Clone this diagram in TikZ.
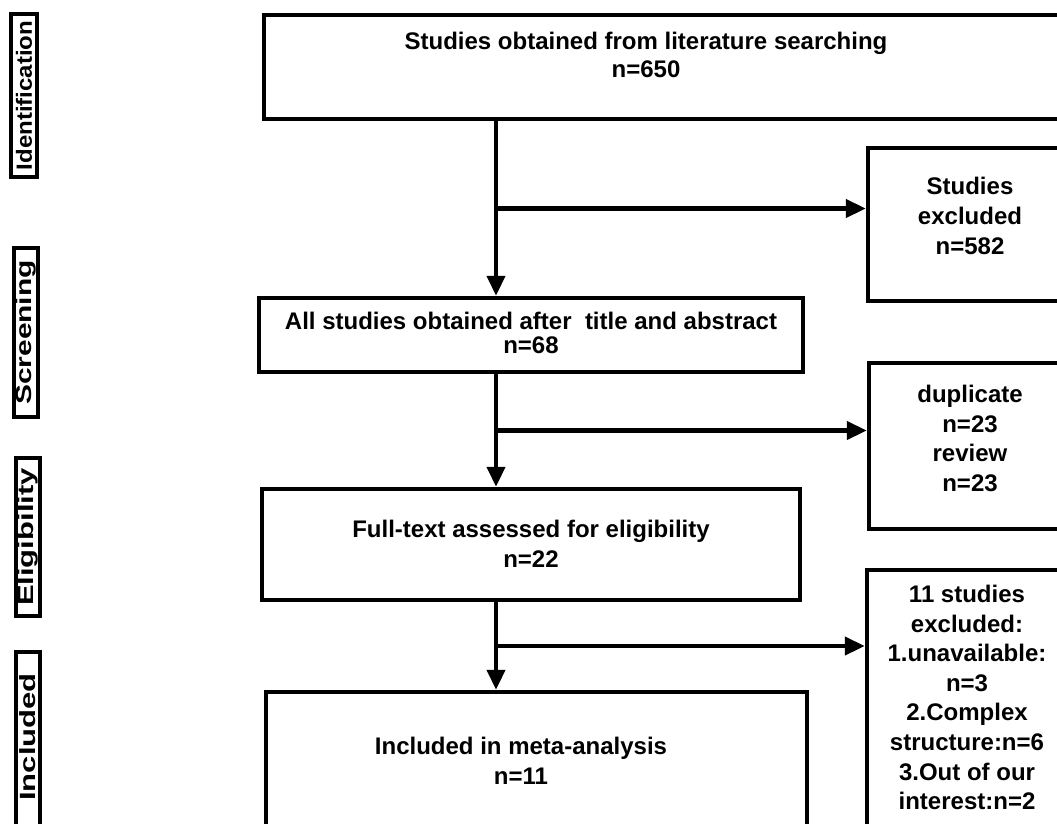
\documentclass[tikz,border=0pt]{standalone}
\usepackage{fontspec}
\setmainfont{Liberation Sans}
\usetikzlibrary{arrows.meta,calc}
\begin{document}
\begin{tikzpicture}[x=1pt,y=-1pt,
  box/.style={draw, line width=4.5pt, inner sep=0pt},
  lbox/.style={draw, line width=3.5pt, inner sep=0pt},
  txt/.style={font=\fontsize{24}{29.6}\selectfont\bfseries, align=center, inner sep=0pt},
  ltxt/.style={font=\fontsize{22}{24}\selectfont\bfseries, rotate=90, inner sep=0pt},
  conn/.style={line width=4.5pt, -{Triangle[length=20pt,width=18pt]}}]
\useasboundingbox (0,0) rectangle (1057,824);
\clip (0,0) rectangle (1057,824);
\fill[white] (0,0) rectangle (1057,824);
% stage labels
\node[lbox, minimum width=26pt, minimum height=163pt] (L1) at (24,95.5) {};
\node[lbox, minimum width=24pt, minimum height=169pt] (L2) at (26,332.5) {};
\node[lbox, minimum width=24pt, minimum height=158pt] (L3) at (28,537) {};
\node[lbox, minimum width=24pt, minimum height=188pt] (L4) at (28,746) {};
\node[ltxt] (l1) at (L1.center) {\scalebox{1.09}[1]{Identification}};
\node[ltxt] (l2) at (L2.center) {\scalebox{1.36}[1]{Screening}};
\node[ltxt] (l3) at (L3.center) {\scalebox{1.41}[1]{Eligibility}};
\node[ltxt] (l4) at (28,737) {\scalebox{1.41}[1]{Included}};
% main boxes
\node[box, minimum width=806pt, minimum height=104pt] (top) at (667,67) {};
\node[box, minimum width=544pt, minimum height=74pt] (s2) at (531,335) {};
\node[box, minimum width=538pt, minimum height=111pt] (s3) at (531,544.5) {};
\node[box, minimum width=541pt, minimum height=148pt] (s4) at (536.5,766) {};
% exclusion boxes
\node[box, minimum width=202pt, minimum height=153pt] (ex1) at (969,224.5) {};
\node[box, minimum width=201pt, minimum height=166pt] (ex2) at (969.5,446) {};
\node[box, minimum width=203pt, minimum height=270pt] (ex3) at (968.5,705) {};
% texts
\node[txt, font=\fontsize{24}{28}\selectfont\bfseries] (t1) at (646,55) {Studies obtained from literature searching\\n=650};
\node[txt, font=\fontsize{24}{24}\selectfont\bfseries] (t2) at (531,333) {All studies obtained after\ \ title and abstract\\n=68};
\node[txt] (t3) at (531,544) {Full-text assessed for eligibility\\n=22};
\node[txt] (t4) at (521,761) {Included in meta-analysis\\n=11};
\node[txt] (te1) at (970,216) {Studies\\excluded\\n=582};
\node[txt] (te2) at (970,438.5) {duplicate\\n=23\\review\\n=23};
\node[txt] (te3) at (967,697.5) {11 studies\\excluded:\\1.unavailable:\\n=3\\2.Complex\\structure:n=6\\3.Out of our\\interest:n=2};
% connectors
\coordinate (xl) at (496,0);
\draw[conn] (top.south -| xl) -- (s2.north -| xl);
\coordinate (b1) at ($(top.south -| xl)!0.5!(s2.north -| xl)$);
\draw[conn] (b1) -- (b1 -| ex1.west);
\draw[conn] (s2.south -| xl) -- (s3.north -| xl);
\coordinate (b2) at ($(s2.south -| xl)!0.5!(s3.north -| xl)$);
\draw[conn] (b2) -- (b2 -| ex2.west);
\draw[conn] (s3.south -| xl) -- (s4.north -| xl);
\coordinate (b3) at ($(s3.south -| xl)!0.5!(s4.north -| xl)$);
\draw[conn] (b3) -- (b3 -| ex3.west);
\end{tikzpicture}
\end{document}
